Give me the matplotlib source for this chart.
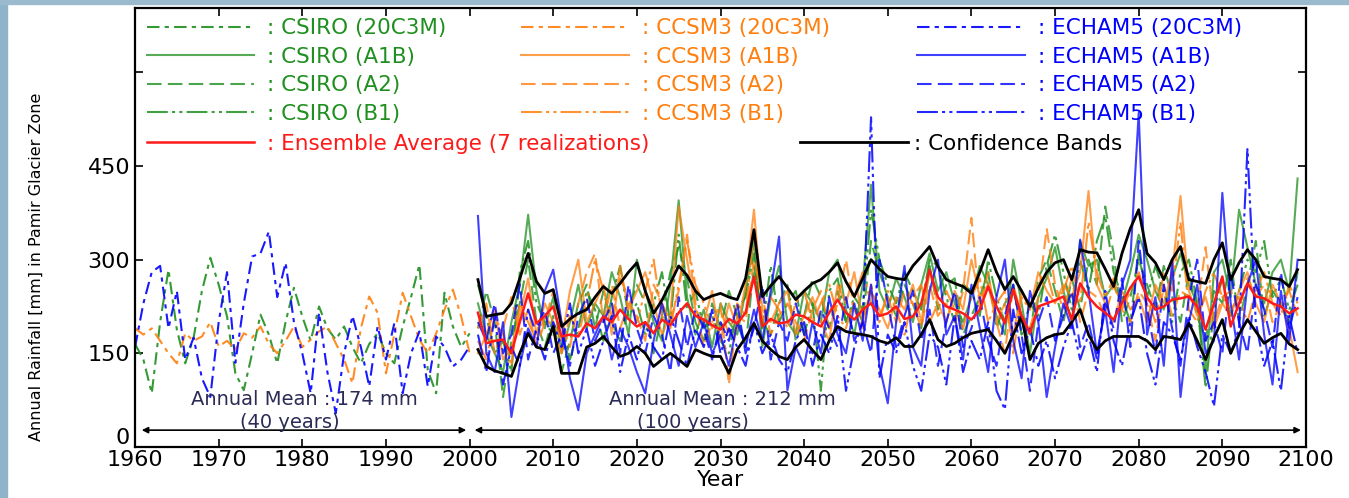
import matplotlib.pyplot as plt
import matplotlib.transforms as mtransforms
import numpy as np
from matplotlib.patches import Rectangle

# ---------------- data ----------------
YEARS_HIST = list(range(1960, 2001))
YEARS_SCEN = list(range(2001, 2100))

CSIRO_20C3M = [165, 140, 86, 200, 284, 188, 134, 175, 250, 303,
               260, 209, 118, 91, 150, 212, 180, 134, 200, 255,
               209, 170, 225, 190, 172, 193, 160, 134, 165, 182,
               150, 134, 193, 240, 292, 123, 86, 247, 193, 160,
               182]
CCSM3_20C3M = [190, 180, 190, 170, 150, 134, 182, 170, 177, 200,
               161, 170, 156, 182, 175, 193, 165, 150, 170, 193,
               160, 172, 185, 193, 166, 140, 102, 190, 241, 215,
               118, 180, 247, 209, 172, 150, 182, 220, 252, 209,
               150]
ECHAM5_20C3M = [160, 230, 280, 290, 190, 250, 140, 175, 110, 80,
                200, 280, 135, 230, 305, 310, 345, 240, 295, 200,
                150, 86, 215, 120, 54, 150, 210, 160, 97, 193,
                140, 198, 86, 150, 185, 97, 177, 160, 129, 140,
                161]

CSIRO_A1B = [230, 180, 150, 120, 200, 260, 372, 250, 190, 240,
             150, 200, 260, 190, 230, 210, 280, 240, 180, 300,
             250, 200, 170, 260, 395, 240, 180, 220, 160, 230,
             200, 180, 250, 330, 160, 240, 290, 200, 180, 250,
             230, 200, 280, 300, 220, 180, 260, 420, 250, 220,
             270, 240, 200, 260, 310, 250, 280, 230, 200, 240,
             290, 260, 210, 180, 300, 230, 150, 240, 270, 320,
             250, 200, 330, 290, 300, 240, 260, 230, 280, 340,
             300, 250, 220, 270, 310, 260, 230, 120, 280, 300,
             240, 380, 320, 260, 230, 280, 300, 250, 430]
CSIRO_A2 = [190, 250, 200, 80, 170, 230, 300, 200, 160, 210,
            120, 170, 230, 260, 190, 250, 200, 170, 220, 260,
            230, 150, 210, 280, 320, 270, 200, 170, 230, 190,
            250, 210, 160, 290, 200, 180, 230, 260, 170, 210,
            270, 240, 190, 250, 200, 230, 200, 330, 280, 240,
            210, 260, 230, 190, 290, 220, 260, 270, 180, 210,
            240, 280, 190, 230, 250, 200, 180, 270, 300, 250,
            200, 270, 220, 300, 260, 385, 310, 200, 240, 300,
            260, 220, 290, 240, 200, 280, 210, 170, 250, 230,
            300, 200, 260, 330, 210, 250, 230, 200, 280]
CSIRO_B1 = [260, 210, 150, 170, 120, 280, 330, 230, 200, 180,
            200, 140, 190, 250, 220, 170, 240, 290, 210, 230,
            180, 230, 280, 200, 340, 220, 250, 190, 210, 170,
            150, 220, 240, 310, 190, 290, 200, 230, 250, 180,
            230, 90, 250, 270, 200, 240, 220, 380, 300, 260,
            230, 280, 250, 220, 300, 290, 240, 200, 260, 250,
            210, 300, 240, 200, 260, 180, 230, 210, 290, 340,
            280, 220, 300, 250, 330, 370, 280, 240, 200, 310,
            240, 290, 250, 200, 280, 300, 230, 95, 220, 270,
            210, 250, 300, 280, 330, 240, 270, 220, 260]

CCSM3_A1B = [150, 180, 220, 140, 160, 210, 270, 180, 230, 200,
             170, 250, 300, 200, 230, 260, 180, 290, 220, 250,
             280, 230, 180, 210, 385, 300, 220, 200, 250, 170,
             230, 190, 260, 380, 220, 200, 230, 250, 180, 210,
             240, 200, 170, 260, 230, 280, 200, 250, 220, 190,
             240, 220, 260, 200, 280, 230, 200, 250, 220, 300,
             240, 260, 200, 230, 180, 250, 220, 280, 250, 230,
             260, 240, 280, 410, 260, 230, 200, 250, 220, 240,
             200, 260, 230, 280, 402, 250, 210, 240, 190, 230,
             210, 250, 280, 230, 200, 260, 230, 190, 120]
CCSM3_A2 = [190, 230, 150, 190, 240, 180, 220, 160, 200, 250,
            200, 160, 230, 280, 310, 200, 260, 190, 230, 210,
            170, 260, 230, 200, 250, 340, 230, 160, 200, 230,
            100, 210, 200, 300, 240, 180, 210, 230, 200, 170,
            220, 250, 190, 230, 300, 220, 190, 260, 210, 240,
            200, 250, 230, 190, 260, 210, 230, 200, 250, 367,
            220, 280, 200, 150, 260, 210, 190, 240, 350, 260,
            220, 270, 200, 250, 240, 210, 260, 220, 200, 250,
            230, 170, 260, 210, 250, 240, 220, 320, 200, 240,
            250, 220, 270, 240, 260, 200, 230, 250, 210]
CCSM3_B1 = [170, 140, 210, 180, 130, 230, 200, 170, 210, 190,
            150, 210, 180, 230, 300, 250, 210, 270, 240, 200,
            250, 300, 210, 190, 260, 330, 260, 230, 190, 220,
            180, 230, 210, 350, 200, 240, 220, 190, 230, 250,
            200, 230, 260, 210, 190, 240, 280, 230, 200, 250,
            220, 180, 240, 260, 200, 230, 250, 220, 190, 240,
            270, 200, 230, 250, 150, 240, 220, 260, 280, 230,
            250, 290, 230, 360, 280, 240, 270, 220, 250, 280,
            240, 200, 280, 250, 360, 220, 200, 250, 280, 240,
            220, 240, 200, 250, 280, 230, 210, 260, 230]

ECHAM5_A1B = [370, 150, 120, 200, 48, 130, 190, 160, 250, 284,
              200, 110, 59, 150, 180, 210, 140, 190, 160, 120,
              86, 170, 230, 180, 130, 210, 160, 200, 150, 180,
              130, 200, 160, 220, 170, 250, 337, 91, 160, 130,
              200, 150, 240, 180, 150, 230, 170, 260, 130, 70,
              200, 290, 160, 130, 250, 300, 180, 210, 140, 260,
              190, 120, 240, 300, 170, 110, 250, 200, 80, 160,
              230, 190, 332, 250, 150, 220, 120, 260, 300, 535,
              180, 240, 130, 300, 80, 200, 260, 150, 170, 407,
              230, 140, 260, 300, 180, 100, 250, 170, 300]
ECHAM5_A2 = [200, 170, 230, 150, 180, 260, 140, 190, 220, 150,
             180, 130, 210, 240, 170, 200, 230, 150, 260, 190,
             150, 210, 180, 120, 240, 160, 220, 190, 140, 200,
             170, 230, 150, 190, 260, 140, 200, 170, 230, 180,
             150, 220, 190, 160, 240, 170, 200, 150, 300, 230,
             160, 210, 250, 170, 220, 130, 200, 250, 160, 190,
             240, 170, 130, 210, 260, 180, 90, 200, 240, 170,
             210, 250, 160, 200, 140, 230, 190, 270, 160, 330,
             220, 150, 260, 190, 130, 240, 300, 170, 200, 150,
             280, 200, 150, 260, 220, 160, 280, 190, 240]
ECHAM5_B1 = [180, 120, 210, 100, 160, 130, 220, 180, 140, 200,
             160, 230, 150, 190, 130, 170, 210, 120, 180, 140,
             200, 160, 140, 210, 170, 130, 190, 160, 220, 150,
             190, 160, 130, 200, 150, 180, 140, 120, 170, 200,
             130, 180, 150, 210, 90, 160, 200, 528, 110, 180,
             150, 200, 130, 90, 180, 160, 100, 210, 120, 170,
             140, 200, 90, 60, 220, 150, 190, 130, 170, 110,
             160, 200, 140, 180, 120, 250, 170, 130, 200, 240,
             150, 100, 200, 180, 140, 210, 160, 120, 65, 180,
             150, 190, 477, 200, 130, 170, 90, 210, 150]

ENSEMBLE = [215, 166, 170, 172, 150, 200, 246, 198, 210, 225,
            177, 180, 177, 198, 190, 209, 200, 220, 205, 193,
            200, 182, 204, 195, 215, 230, 210, 204, 195, 188,
            205, 198, 215, 273, 193, 205, 198, 200, 212, 209,
            200, 193, 215, 236, 215, 204, 220, 230, 210, 214,
            225, 205, 209, 230, 284, 240, 225, 220, 214, 204,
            220, 257, 225, 198, 252, 210, 182, 225, 230, 235,
            241, 204, 262, 240, 225, 215, 204, 230, 255, 273,
            240, 220, 225, 236, 238, 241, 225, 188, 230, 273,
            193, 230, 262, 241, 238, 230, 225, 214, 222]
BAND_UPPER = [268, 209, 212, 214, 230, 270, 310, 265, 246, 252,
              193, 205, 214, 220, 240, 257, 246, 262, 280, 295,
              250, 214, 235, 262, 290, 275, 250, 236, 242, 246,
              240, 236, 270, 348, 241, 258, 273, 255, 236, 250,
              262, 268, 280, 295, 265, 241, 270, 300, 285, 273,
              270, 268, 290, 305, 321, 289, 268, 262, 257, 246,
              280, 316, 280, 252, 273, 250, 225, 255, 280, 295,
              300, 268, 316, 312, 311, 285, 257, 310, 350, 380,
              310, 295, 268, 300, 321, 268, 265, 262, 300, 327,
              268, 295, 316, 300, 273, 270, 268, 257, 284]
BAND_LOWER = [156, 129, 122, 118, 113, 150, 182, 160, 156, 193,
              118, 118, 118, 160, 166, 177, 160, 145, 150, 161,
              150, 129, 140, 150, 140, 129, 156, 150, 145, 145,
              118, 156, 175, 198, 170, 156, 145, 140, 160, 172,
              155, 140, 170, 193, 185, 182, 180, 177, 170, 166,
              175, 161, 161, 180, 204, 172, 161, 166, 175, 182,
              185, 188, 170, 150, 180, 209, 140, 166, 175, 180,
              182, 200, 220, 180, 156, 170, 177, 177, 177, 177,
              170, 156, 177, 175, 172, 198, 170, 140, 175, 204,
              150, 180, 204, 185, 166, 175, 182, 165, 156]

# ---------------- style ----------------
GREEN = "#1f8f1f"
ORANGE = "#ff7f0e"
BLUE = "#0000ff"
RED = "#ff1a1a"
DASH_20C = (0, (6, 2.5, 2, 2.5))
DASH_A2 = (0, (7, 3))
DASH_B1 = (0, (10, 2, 1.5, 2, 1.5, 2))
LW = 1.5
FONT = "DejaVu Sans"
LEG_FS = 15.5
# legend column anchors (axes fraction)
COL_X = [0.010, 0.330, 0.668]


def main():
    plt.rcParams["font.family"] = FONT
    fig = plt.figure(figsize=(13.49, 4.98), dpi=100)
    ax = fig.add_axes([0.1001, 0.1024, 0.868, 0.8816])

    # light blue slide border (left & top)
    fig.patches.append(Rectangle((0, 0), 0.0055, 1, transform=fig.transFigure,
                                 color="#8fb4c9", zorder=-1))
    fig.patches.append(Rectangle((0, 0.992), 1, 0.008, transform=fig.transFigure,
                                 color="#9bbacd", zorder=-1))

    models = [
        ("CSIRO", GREEN, CSIRO_20C3M, CSIRO_A1B, CSIRO_A2, CSIRO_B1),
        ("CCSM3", ORANGE, CCSM3_20C3M, CCSM3_A1B, CCSM3_A2, CCSM3_B1),
        ("ECHAM5", BLUE, ECHAM5_20C3M, ECHAM5_A1B, ECHAM5_A2, ECHAM5_B1),
    ]

    columns = []
    for name, col, h20, a1b, a2, b1 in models:
        l0, = ax.plot(YEARS_HIST, h20, color=col, lw=LW, ls=DASH_20C, alpha=0.9,
                      label=f": {name} (20C3M)")
        l1, = ax.plot(YEARS_SCEN, a1b, color=col, lw=LW, ls="-", alpha=0.75,
                      label=f": {name} (A1B)")
        l2, = ax.plot(YEARS_SCEN, a2, color=col, lw=LW, ls=DASH_A2, alpha=0.8,
                      label=f": {name} (A2)")
        l3, = ax.plot(YEARS_SCEN, b1, color=col, lw=LW, ls=DASH_B1, alpha=0.85,
                      label=f": {name} (B1)")
        columns.append([l0, l1, l2, l3])

    lu, = ax.plot(YEARS_SCEN, BAND_UPPER, color="black", lw=2.0,
                  label=": Confidence Bands", zorder=5)
    ax.plot(YEARS_SCEN, BAND_LOWER, color="black", lw=2.0, zorder=5)
    le, = ax.plot(YEARS_SCEN, ENSEMBLE, color=RED, lw=1.8,
                  label=": Ensemble Average (7 realizations)", zorder=6)

    # axes
    ax.set_xlim(1960, 2100)
    ax.set_ylim(0, 703)
    ax.set_xticks(range(1960, 2101, 10))
    ax.set_yticks([0, 150, 300, 450, 600])
    ax.set_yticklabels(["0", "150", "300", "450", ""])
    ax.tick_params(direction="in", length=6, width=1.2, labelsize=16,
                   top=True, right=True)
    ax.tick_params(axis="x", pad=2)
    # the "0" sits a little above the axis, as in the picture
    zero = ax.get_yticklabels()[0]
    zero.set_transform(zero.get_transform() +
                       mtransforms.ScaledTranslation(0, 8 / 72, fig.dpi_scale_trans))
    for s in ax.spines.values():
        s.set_linewidth(1.6)
    ax.set_xlabel("Year", fontsize=16, labelpad=0)
    ax.set_ylabel("Annual Rainfall [mm] in Pamir Glacier Zone", fontsize=11.5)
    ax.yaxis.set_label_coords(-0.078, 0.41)

    # annual mean notes
    ax.annotate("", xy=(1960.8, 27), xytext=(1999.6, 27),
                arrowprops=dict(arrowstyle="<|-|>", color="black", lw=1.2,
                                mutation_scale=9, shrinkA=0, shrinkB=0))
    ax.annotate("", xy=(2000.6, 27), xytext=(2099.4, 27),
                arrowprops=dict(arrowstyle="<|-|>", color="black", lw=1.2,
                                mutation_scale=9, shrinkA=0, shrinkB=0))
    note = dict(ha="center", va="center", fontsize=14, color="#2b2b55")
    ax.text(1980.3, 76, "Annual Mean : 174 mm", **note)
    ax.text(1978.5, 40, "(40 years)", **note)
    ax.text(2030.2, 76, "Annual Mean : 212 mm", **note)
    ax.text(2026.7, 40, "(100 years)", **note)

    # legends: one per model column, then the ensemble row
    leg_kw = dict(loc="upper left", frameon=False, fontsize=LEG_FS,
                  handlelength=5.0, handletextpad=0.6, labelspacing=0.4,
                  borderpad=0.0, borderaxespad=0.0, labelcolor="linecolor")
    for x0, hs in zip(COL_X, columns):
        leg = ax.legend(handles=hs, bbox_to_anchor=(x0, 0.977), **leg_kw)
        ax.add_artist(leg)
    leg = ax.legend(handles=[le], bbox_to_anchor=(COL_X[0], 0.713),
                    **leg_kw)
    ax.add_artist(leg)
    ax.legend(handles=[lu], bbox_to_anchor=(0.568, 0.713),
              **dict(leg_kw, handletextpad=0.3))

    fig.savefig("out.png", dpi=100)


if __name__ == "__main__":
    main()
